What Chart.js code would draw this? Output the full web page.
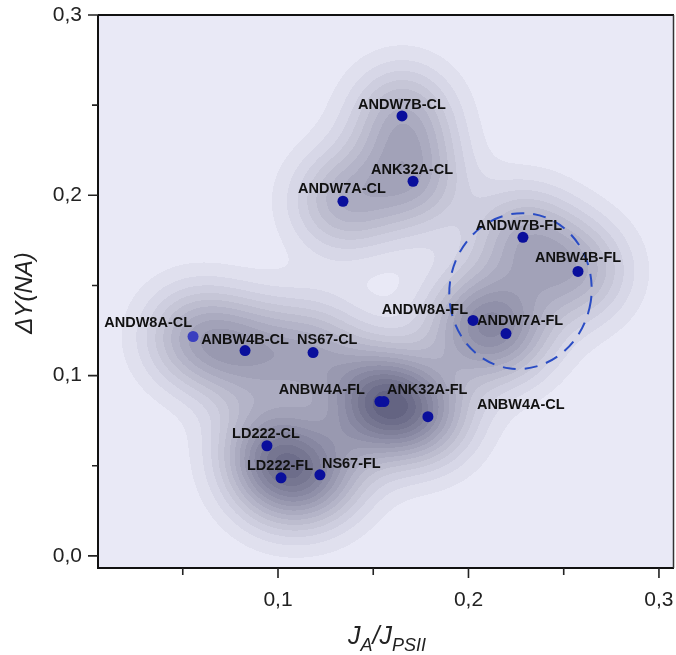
<!DOCTYPE html>
<html>
<head>
<meta charset="utf-8">
<script src="https://cdn.jsdelivr.net/npm/chart.js@4.4.1/dist/chart.umd.min.js"></script>
<style>
  body { margin: 0; background: #fff; }
  canvas { display: block; }
</style>
</head>
<body>
<canvas id="c" width="676" height="655"></canvas>
<script>
// --- data ---
const names = ['ANDW7B-CL', 'ANK32A-CL', 'ANDW7A-CL', 'ANDW7B-FL', 'ANBW4B-FL', 'ANDW8A-FL',
  'ANDW7A-FL', 'ANDW8A-CL', 'ANBW4B-CL', 'NS67-CL', 'ANBW4A-FL', 'ANK32A-FL',
  'ANBW4A-CL', 'LD222-CL', 'LD222-FL', 'NS67-FL'];
const jRatio = [0.1651, 0.1709, 0.1341, 0.2286, 0.2575, 0.2024,
  0.2197, 0.0554, 0.0827, 0.1184, 0.1535, 0.1556,
  0.1787, 0.0942, 0.1016, 0.1220];
const deltaY = [0.2440, 0.2078, 0.1967, 0.1767, 0.1578, 0.1306,
  0.1233, 0.1217, 0.1139, 0.1128, 0.0856, 0.0856,
  0.0772, 0.0611, 0.0433, 0.0450];
const xTicks = [0.05, 0.1, 0.15, 0.2, 0.25, 0.3];
const yTicks = [0, 0.05, 0.1, 0.15, 0.2, 0.25, 0.3];
const xMajor = [0.1, 0.2, 0.3];
const yMajor = [0, 0.1, 0.2, 0.3];

// label placement relative to each point: [dx, dy, align]
const labelPos = {
  'ANDW7B-CL': [0, -11, 'center'], 'ANK32A-CL': [-1, -11, 'center'], 'ANDW7A-CL': [-1, -12, 'center'],
  'ANDW7B-FL': [-4, -11, 'center'], 'ANBW4B-FL': [0, -13, 'center'], 'ANDW8A-FL': [-5, -10, 'right'],
  'ANDW7A-FL': [-29, -13, 'left'], 'ANDW8A-CL': [-1, -13, 'right'], 'ANBW4B-CL': [0, -11, 'center'],
  'NS67-CL': [-16, -13, 'left'], 'ANBW4A-FL': [-15, -12, 'right'], 'ANK32A-FL': [3, -12, 'left'],
  'ANBW4A-CL': [49, -12, 'left'], 'LD222-CL': [-1, -12, 'center'], 'LD222-FL': [-1, -12, 'center'],
  'NS67-FL': [2, -11, 'left']
};

// dashed ellipse around the FL group (data units)
const ring = { x: 0.2273, y: 0.1469, rx: 0.0373, ry: 0.0433, rot: 0.15 };

const fmt = v => v.toFixed(1).replace('.', ',');

// kernel density shading behind the points
const densityBg = {
  id: 'densityBg',
  beforeDatasetsDraw(chart) {
    const { ctx, chartArea: a, scales: { x, y } } = chart;
    const L = Math.round(a.left), T = Math.round(a.top);
    const W = Math.round(a.right) - L, H = Math.round(a.bottom) - T;
    const n = jRatio.length, hx = 0.0195, hy = 0.0205;
    const gx = new Float32Array(W * n), gy = new Float32Array(H * n);
    for (let i = 0; i < W; i++) {
      const v = x.getValueForPixel(L + i + 0.5);
      for (let p = 0; p < n; p++) { const d = (v - jRatio[p]) / hx; gx[i * n + p] = Math.exp(-0.5 * d * d); }
    }
    for (let j = 0; j < H; j++) {
      const v = y.getValueForPixel(T + j + 0.5);
      for (let p = 0; p < n; p++) { const d = (v - deltaY[p]) / hy; gy[j * n + p] = Math.exp(-0.5 * d * d); }
    }
    const dens = new Float32Array(W * H);
    let max = 0;
    for (let j = 0; j < H; j++) for (let i = 0; i < W; i++) {
      let s = 0;
      for (let p = 0; p < n; p++) s += gx[i * n + p] * gy[j * n + p];
      dens[j * W + i] = s; if (s > max) max = s;
    }
    const levels = 16, lo = [233, 233, 246], hi = [100, 100, 130];
    const img = ctx.createImageData(W, H);
    for (let k = 0; k < W * H; k++) {
      const t = Math.min(levels - 1, Math.floor(dens[k] / max * levels)) / (levels - 1);
      img.data[k * 4] = lo[0] + (hi[0] - lo[0]) * t;
      img.data[k * 4 + 1] = lo[1] + (hi[1] - lo[1]) * t;
      img.data[k * 4 + 2] = lo[2] + (hi[2] - lo[2]) * t;
      img.data[k * 4 + 3] = 255;
    }
    ctx.putImageData(img, L, T);

    // dashed ring
    const cx = x.getPixelForValue(ring.x), cy = y.getPixelForValue(ring.y);
    const rx = Math.abs(x.getPixelForValue(ring.x + ring.rx) - cx);
    const ry = Math.abs(y.getPixelForValue(ring.y + ring.ry) - cy);
    ctx.save();
    ctx.strokeStyle = '#2a4cc4';
    ctx.lineWidth = 2;
    ctx.setLineDash([13, 9]);
    ctx.beginPath();
    ctx.ellipse(cx, cy, rx, ry, ring.rot, 0, Math.PI * 2);
    ctx.stroke();
    ctx.restore();
  }
};

// point labels
const pointLabels = {
  id: 'pointLabels',
  afterDatasetsDraw(chart) {
    const { ctx, scales: { x, y } } = chart;
    ctx.save();
    ctx.font = 'bold 14.5px "Liberation Sans", Arial, sans-serif';
    ctx.fillStyle = '#111';
    ctx.textBaseline = 'middle';
    names.forEach((nm, i) => {
      const [dx, dy, al] = labelPos[nm];
      ctx.textAlign = al;
      ctx.fillText(nm, x.getPixelForValue(jRatio[i]) + dx, y.getPixelForValue(deltaY[i]) + dy);
    });
    ctx.restore();
  }
};

// frame, ticks and axis titles
const frame = {
  id: 'frame',
  afterDraw(chart) {
    const { ctx, chartArea: a, scales: { x, y } } = chart;
    ctx.save();
    ctx.strokeStyle = '#111';
    ctx.lineWidth = 2;
    ctx.beginPath();
    ctx.moveTo(a.left, a.top); ctx.lineTo(a.left, a.bottom); ctx.lineTo(a.right, a.bottom);
    ctx.moveTo(a.left, a.top); ctx.lineTo(a.right, a.top);
    ctx.stroke();
    ctx.lineWidth = 1.5;
    ctx.strokeStyle = '#333';
    ctx.beginPath();
    ctx.moveTo(a.right - 0.5, a.top); ctx.lineTo(a.right - 0.5, a.bottom);
    ctx.stroke();

    ctx.lineWidth = 1.6;
    ctx.strokeStyle = '#222';
    ctx.beginPath();
    xTicks.forEach(v => {
      const px = x.getPixelForValue(v), len = xMajor.includes(v) ? 10 : 7;
      ctx.moveTo(px, a.bottom); ctx.lineTo(px, a.bottom + len);
    });
    yTicks.forEach(v => {
      const py = y.getPixelForValue(v), len = yMajor.includes(v) ? 10 : 6;
      ctx.moveTo(a.left, py); ctx.lineTo(a.left - len, py);
    });
    ctx.stroke();

    ctx.fillStyle = '#222';
    ctx.font = 'italic 24px "Liberation Sans", Arial, sans-serif';
    ctx.textAlign = 'center';
    ctx.textBaseline = 'middle';
    ctx.save();
    ctx.translate(25, 293);
    ctx.rotate(-Math.PI / 2);
    ctx.fillText('ΔY(NA)', 0, 0);
    ctx.restore();

    const big = 'italic 25px "Liberation Sans", Arial, sans-serif';
    const small = 'italic 18px "Liberation Sans", Arial, sans-serif';
    const parts = [['J', big, 0], ['A', small, 7], ['/', big, 0], ['J', big, 0], ['PSII', small, 7]];
    let total = 0;
    parts.forEach(p => { ctx.font = p[1]; total += ctx.measureText(p[0]).width; });
    let sx = 387 - total / 2;
    ctx.textAlign = 'left';
    ctx.textBaseline = 'alphabetic';
    parts.forEach(p => {
      ctx.font = p[1];
      ctx.fillText(p[0], sx, 644 + p[2]);
      sx += ctx.measureText(p[0]).width;
    });
    ctx.restore();
  }
};

const tickFont = { family: '"Liberation Sans", Arial, sans-serif', size: 21 };

new Chart(document.getElementById('c'), {
  type: 'scatter',
  data: {
    datasets: [{
      data: jRatio.map((v, i) => ({ x: v, y: deltaY[i] })),
      pointRadius: 5.5,
      pointHoverRadius: 5.5,
      borderWidth: 0,
      backgroundColor: ctx => names[ctx.dataIndex] === 'ANDW8A-CL' ? '#3a3fbf' : '#0a0f9c'
    }]
  },
  plugins: [densityBg, pointLabels, frame],
  options: {
    responsive: false,
    animation: false,
    layout: { autoPadding: false, padding: { left: 0, right: 2, top: 15, bottom: 0 } },
    plugins: { legend: { display: false }, tooltip: { enabled: false } },
    scales: {
      x: {
        type: 'linear', min: 0.0055, max: 0.3079,
        grid: { display: false, drawTicks: false },
        border: { display: false },
        afterBuildTicks: s => { s.ticks = xTicks.map(v => ({ value: v })); },
        afterFit: s => { s.height = 87; s.paddingLeft = 0; s.paddingRight = 0; },
        ticks: {
          font: tickFont, color: '#222', padding: 20, maxRotation: 0, autoSkip: false,
          callback: v => xMajor.some(m => Math.abs(m - v) < 1e-9) ? fmt(v) : ''
        }
      },
      y: {
        type: 'linear', min: -0.0067, max: 0.3,
        grid: { display: false, drawTicks: false },
        border: { display: false },
        afterBuildTicks: s => { s.ticks = yTicks.map(v => ({ value: v })); },
        afterFit: s => { s.width = 98; s.paddingTop = 0; s.paddingBottom = 0; },
        ticks: {
          font: tickFont, color: '#222', padding: 16, autoSkip: false,
          callback: v => yMajor.some(m => Math.abs(m - v) < 1e-9) ? fmt(v) : ''
        }
      }
    }
  }
});
</script>
</body>
</html>
